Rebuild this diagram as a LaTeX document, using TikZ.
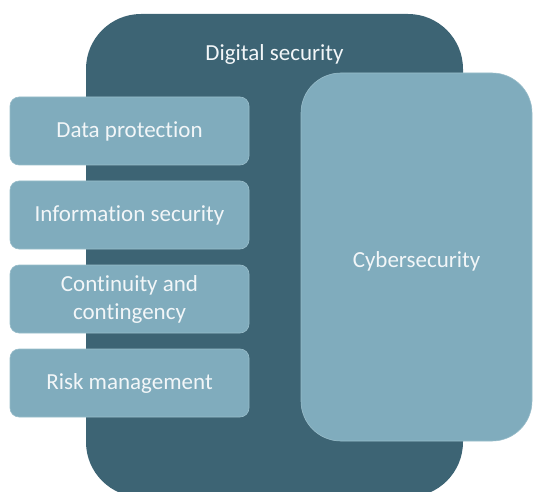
\documentclass[tikz,border=0pt]{standalone}
\usepackage{fontspec}
\setmainfont{Carlito}[Ligatures=NoCommon]
\usetikzlibrary{positioning}

\definecolor{deepteal}{RGB}{61,100,116}
\definecolor{paleteal}{RGB}{128,172,189}
\definecolor{softwhite}{RGB}{242,246,248}

\begin{document}
\begin{tikzpicture}[
    x=1pt,
    y=-1pt,
    font=\fontsize{23}{28}\selectfont,
    outerbox/.style={
        fill=deepteal,
        rounded corners=55pt,
        inner sep=0pt,
        outer sep=0pt,
        minimum width=377pt,
        minimum height=483pt
    },
    areabox/.style={
        fill=paleteal,
        draw=paleteal!80!white,
        line width=0.6pt,
        rounded corners=9pt,
        inner sep=0pt,
        outer sep=0pt,
        minimum width=239pt,
        minimum height=68pt,
        text=softwhite,
        align=center
    },
    cyberbox/.style={
        areabox,
        rounded corners=40pt,
        minimum width=231pt,
        minimum height=368pt,
        text height=25pt
    },
    titletext/.style={
        text=softwhite,
        inner sep=0pt
    }
]

% Rozmiar strony
\useasboundingbox
    (0,0)
    rectangle
    (533,492);

% Duży ciemny obszar
\node[outerbox] (digital) at (274.5,255.5) {};

\node[titletext] (digitaltitle) at (274.5,54)
    {Digital security};

% Obszary po lewej
\node[areabox] (dataprot) at (129.5,131)
    {Data protection};

\node[areabox, below=16pt of dataprot] (infosec)
    {Information security};

\node[areabox, below=16pt of infosec] (continuity)
    {Continuity and\\contingency};

\node[areabox, below=16pt of continuity] (riskmgmt)
    {Risk management};

% Obszar po prawej
\node[cyberbox] (cyber) at (416.5,257)
    {Cybersecurity};

\end{tikzpicture}
\end{document}
